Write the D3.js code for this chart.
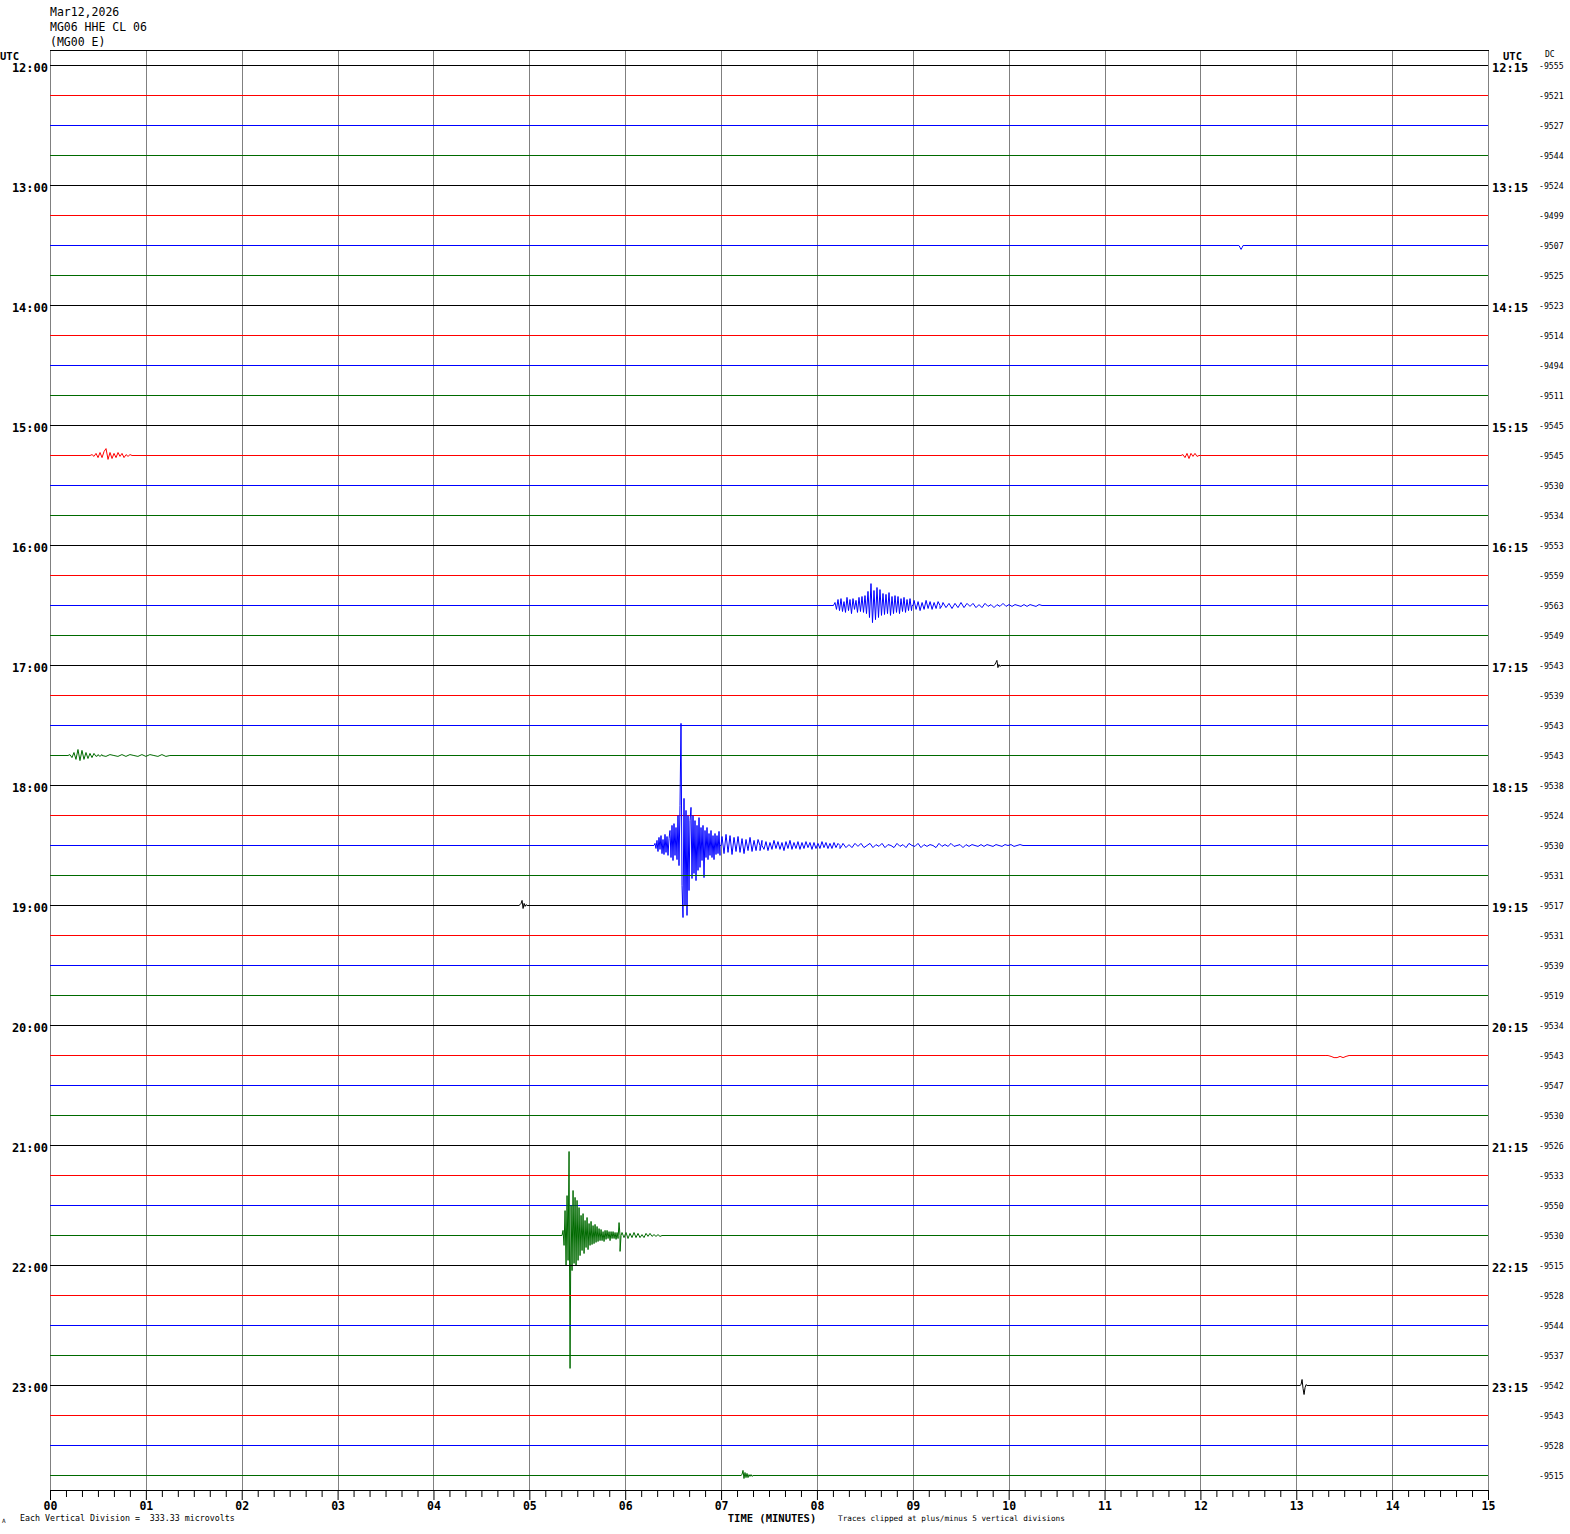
<!DOCTYPE html>
<html>
<head>
<meta charset="utf-8">
<script src="https://cdn.jsdelivr.net/npm/d3@7"></script>
<style>
  html, body { margin: 0; padding: 0; background: #fff; }
  svg { display: block; }
  text { font-family: "DejaVu Sans Mono", "Liberation Mono", monospace; fill: #000; }
</style>
</head>
<body>
<script>
// ---------------- DATA ----------------
const headerLines = ["Mar12,2026", "MG06 HHE CL 06", "(MG00 E)"];
const rowColors = ["#000000", "#ff0000", "#0000ff", "#006a00"];
const leftHourLabels = ["12:00","13:00","14:00","15:00","16:00","17:00","18:00","19:00","20:00","21:00","22:00","23:00"];
const rightHourLabels = ["12:15","13:15","14:15","15:15","16:15","17:15","18:15","19:15","20:15","21:15","22:15","23:15"];
const dcValues = [
  -9555,-9521,-9527,-9544, -9524,-9499,-9507,-9525, -9523,-9514,-9494,-9511,
  -9545,-9545,-9530,-9534, -9553,-9559,-9563,-9549, -9543,-9539,-9543,-9543,
  -9538,-9524,-9530,-9531, -9517,-9531,-9539,-9519, -9534,-9543,-9547,-9530,
  -9526,-9533,-9550,-9530, -9515,-9528,-9544,-9537, -9542,-9543,-9528,-9515
];
const minuteTicks = ["00","01","02","03","04","05","06","07","08","09","10","11","12","13","14","15"];
const secondsPerRow = 900;

// Event waveform segments: row index, start (s from row start), sample step (s), amplitudes (vertical divisions)
const blue1830a = [0.07,-0.1,0.17,-0.2,0.27,-0.13,0.33,-0.27,0.2,-0.3,0.37,-0.23,0.3,-0.33,0.23,
  0.5,-0.4,0.67,-0.5,0.73,-0.33,0.6,-0.47, 1.0,-0.67,1.33, 4.07,-1.33,-2.4,
  1.57,-2.0,1.17,-2.33,1.0,-1.5,0.83, 1.27,-1.1,1.0,-0.93,0.83,-1.17,0.67,-0.83,0.93,-0.73,
  0.6,-0.5,0.67,-1.07,0.5,-0.4,0.6,-0.47,0.4,-0.33,0.5,-0.4,0.33,-0.47,0.4,-0.3,0.33,-0.27,0.47,-0.33];
const blue1830b = [0.3,-0.27,0.37,-0.23,0.33,-0.3,0.27,-0.2,0.3,-0.23,0.23,-0.27,0.2,-0.17,0.27,-0.2,0.17,-0.17,0.2,-0.17];
const blue1830c = [0.17,-0.13,0.13,-0.17,0.1,-0.13,0.17,-0.1,0.13,-0.13,0.1,-0.17,0.13,-0.1,0.17,-0.13,0.1,-0.1,0.13,-0.13,
  0.1,-0.1,0.13,-0.07,0.1,-0.13,0.1,-0.1,0.07,-0.1,0.13,-0.07,0.1,-0.1,0.07,-0.1,0.1,-0.07,0.07,-0.1];
const blue1830d = [0.07,-0.07,0.03,-0.07,0.07,-0.03,0.07,-0.07,0,0.07,-0.07,0.03,-0.03,0.07,-0.07,0.03,0,-0.07,0.07,-0.03,
  0.03,-0.07,0.07,0,-0.03,0.07,-0.07,0.03,-0.03,0.03,0,-0.07,0.07,-0.03,0.03,-0.03,0.07,-0.03,0,0.03,
  -0.07,0.03,-0.03,0.03,0,-0.03,0.03,-0.03,0.03,0,-0.03,0.03,0,-0.03,0.03,0,0.03,-0.03,0,0.03];
const blue1630a = [0.1,-0.13,0.2,-0.17,0.23,-0.2,0.13,-0.23,0.27,-0.17,0.2,-0.27,0.23,-0.13,0.17,-0.23,0.27,-0.2,0.3,-0.23,
  0.33,-0.27,0.47,-0.4,0.73,-0.57,0.5,-0.47,0.6,-0.4,0.53,
  -0.33,0.4,-0.3,0.37,-0.27,0.43,-0.33,0.3,-0.27,0.33,-0.23,0.3,-0.27,0.23,-0.2,0.27,-0.23,0.2,-0.17,0.23,-0.17];
const blue1630b = [0.17,-0.13,0.13,-0.17,0.1,-0.13,0.17,-0.1,0.13,-0.13,0.1,-0.1,0.13,-0.1];
const blue1630c = [0.1,-0.07,0.07,-0.1,0.07,-0.07,0.1,-0.07,0.07,-0.03,0.07,-0.07,0.03,-0.07,0.07,-0.03,0.03,-0.07,0.03,-0.03,
  0.07,-0.03,0.03,-0.03,0.03,0,-0.03,0.03,-0.03,0.03,0,-0.03,0.03];
const green2145a = [0.17,-0.33,0.83,-1.0,1.33,-0.83,2.8,-4.43,1.0,-1.17,1.5,-0.93,1.27,-1.0,1.17,-0.83,0.93,-0.67,
  0.67,-0.5,0.73,-0.6,0.5,-0.4,0.6,-0.47,0.4,-0.33,0.47,-0.3,0.33,-0.27,0.37,-0.23,0.3,
  -0.2,0.23,-0.17,0.2,-0.17,0.13,-0.2,0.17,-0.13,0.17,-0.1,0.13,-0.17,0.13,-0.1,0.13,-0.1,0.1,-0.13,0.1,-0.1,0.43,-0.53];
const green2145b = [0.1,-0.07,0.1,-0.1,0.07,-0.07,0.1,-0.07,0.07,-0.07,0.03,-0.07,0.07,-0.03,0.07,-0.03,0.03,-0.03,0.03,-0.03];
const red1515a = [0.03,-0.03,0.07,-0.07,0.1,-0.07,0.13,0.23,-0.13,0.1,-0.1,0.07,-0.07,0.1,-0.03,0.07,-0.07,0.03,-0.03,0.03];
const red1515b = [0.03,-0.07,0.07,-0.1,0.07,-0.03,0.07,-0.03];
const green1745a = [0.03,-0.07,0.1,-0.13,0.2,-0.17,0.17,-0.13,0.1,-0.1,0.07,-0.07,0.07,-0.03,0.03,-0.03];
const green1745b = [0.03,-0.03,0.03,0,-0.03,0.03,-0.03,0.03,0,-0.03,0.03,-0.03,0.03,0,-0.03,0.03,-0.03];
const black1700 = [0.03,0.1,0.17,-0.07,0.03,-0.03];
const blue1330 = [0,-0.07,-0.13,-0.07,0];
const black1900 = [0.03,0.07,0.17,-0.1,0.07,-0.03,0.03];
const red2015 = [0,-0.03,-0.07,-0.07,-0.03,-0.07,-0.03];
const black2300 = [0.03,0.2,-0.1,-0.3,-0.07,0.03];
const green2345 = [0.03,0.17,-0.1,0.1,-0.07,0.07,-0.07,0.03,-0.03,0.03,-0.03];

const eventSegments = [
  { row: 26, start: 378.65, step: 0.626, values: blue1830a },
  { row: 26, start: 420.6,  step: 1.252, values: blue1830b },
  { row: 26, start: 445.6,  step: 1.252, values: blue1830c },
  { row: 26, start: 496.3,  step: 1.878, values: blue1830d },
  { row: 18, start: 491.3,  step: 0.939, values: blue1630a },
  { row: 18, start: 540.8,  step: 1.252, values: blue1630b },
  { row: 18, start: 558.9,  step: 1.878, values: blue1630c },
  { row: 39, start: 321.1,  step: 0.626, values: green2145a },
  { row: 39, start: 358.0,  step: 1.252, values: green2145b },
  { row: 13, start: 26.3,   step: 1.252, values: red1515a },
  { row: 13, start: 709.1,  step: 1.252, values: red1515b },
  { row: 23, start: 12.5,   step: 1.252, values: green1745a },
  { row: 23, start: 32.5,   step: 2.503, values: green1745b },
  { row: 20, start: 591.4,  step: 0.626, values: black1700 },
  { row: 6,  start: 744.2,  step: 0.626, values: blue1330 },
  { row: 28, start: 294.2,  step: 0.626, values: black1900 },
  { row: 33, start: 799.9,  step: 1.878, values: red2015 },
  { row: 44, start: 783.0,  step: 0.626, values: black2300 },
  { row: 47, start: 433.1,  step: 0.626, values: green2345 }
];

// ---------------- DRAW ----------------
const W = 1570, H = 1534;
const svg = d3.select("body").append("svg").attr("width", W).attr("height", H);
svg.append("rect").attr("width", W).attr("height", H).attr("fill", "#fff");

const nRows = dcValues.length;
const x = d3.scaleLinear().domain([0, secondsPerRow]).range([50, 1488]);
const rowY = d3.scaleLinear().domain([0, nRows - 1]).range([65, 1475]);
const amp = d3.scaleLinear().domain([-5, 5]).range([150, -150]); // 1 vertical division = trace spacing
const axisY = 1490;

// header
svg.append("g").selectAll("text").data(headerLines).join("text")
  .attr("x", 50).attr("y", (d, i) => 16 + i * 15)
  .attr("font-size", 11.5).text(d => d);

// grid
svg.append("g").selectAll("line").data(d3.range(0, secondsPerRow + 1, 60)).join("line")
  .attr("x1", d => Math.round(x(d)) + 0.5).attr("x2", d => Math.round(x(d)) + 0.5)
  .attr("y1", 50).attr("y2", axisY)
  .attr("stroke", "#808080").attr("stroke-width", 1);
svg.append("line").attr("x1", 50).attr("x2", 1489).attr("y1", 50.5).attr("y2", 50.5)
  .attr("stroke", "#000").attr("stroke-width", 1);

// traces
const rowPoints = d3.range(nRows).map(() => []);
eventSegments.forEach(seg => {
  const pts = rowPoints[seg.row];
  pts.push([seg.start - seg.step, 0]);
  seg.values.forEach((v, i) => pts.push([seg.start + i * seg.step, v]));
  pts.push([seg.start + seg.values.length * seg.step, 0]);
});
const traceG = svg.append("g");
rowPoints.forEach((pts, r) => {
  const all = [[0, 0], ...pts.sort((a, b) => a[0] - b[0]), [secondsPerRow, 0]];
  const base = Math.round(rowY(r)) + 0.5;
  const line = d3.line().x(d => x(d[0])).y(d => base + amp(d[1]));
  traceG.append("path").attr("d", line(all))
    .attr("fill", "none").attr("stroke", rowColors[r % 4]).attr("stroke-width", 1)
    .attr("stroke-linejoin", "miter");
});

// left / right time labels
const hourRows = d3.range(0, nRows, 4);
svg.append("text").attr("x", 0).attr("y", 59.5).attr("font-size", 10.5).attr("font-weight", "bold").text("UTC");
svg.append("g").selectAll("text").data(hourRows).join("text")
  .attr("x", 48).attr("y", r => rowY(r) + 6.5).attr("text-anchor", "end")
  .attr("font-size", 12).attr("font-weight", "bold").text((r, i) => leftHourLabels[i]);
svg.append("text").attr("x", 1503).attr("y", 59.5).attr("font-size", 10.5).attr("font-weight", "bold").text("UTC");
svg.append("g").selectAll("text").data(hourRows).join("text")
  .attr("x", 1492).attr("y", r => rowY(r) + 6.5)
  .attr("font-size", 12).attr("font-weight", "bold").text((r, i) => rightHourLabels[i]);

// DC column
svg.append("text").attr("x", 1545).attr("y", 57).attr("font-size", 8).text("DC");
svg.append("g").selectAll("text").data(dcValues).join("text")
  .attr("x", 1539).attr("y", (d, i) => rowY(i) + 3.5)
  .attr("font-size", 8.2).text(d => String(d));

// bottom axis
const major = d3.axisBottom(x).tickValues(d3.range(0, secondsPerRow + 1, 60))
  .tickFormat((d, i) => minuteTicks[i]).tickSize(10).tickSizeOuter(0).tickPadding(2);
const minor = d3.axisBottom(x).tickValues(d3.range(0, secondsPerRow + 1, 10).filter(d => d % 60 !== 0))
  .tickFormat("").tickSize(7).tickSizeOuter(0);
const gMinor = svg.append("g").attr("transform", `translate(0,${axisY})`).call(minor);
const gMajor = svg.append("g").attr("transform", `translate(0,${axisY})`).call(major);
[gMinor, gMajor].forEach(g => {
  g.selectAll("path, line").attr("stroke", "#000").attr("stroke-width", 1);
});
gMajor.selectAll("text").attr("font-family", "DejaVu Sans Mono, monospace")
  .attr("font-size", 11.5).attr("font-weight", "bold").attr("fill", "#000");

svg.append("text").attr("x", 772).attr("y", 1522).attr("text-anchor", "middle")
  .attr("font-size", 10.5).attr("font-weight", "bold").text("TIME (MINUTES)");
svg.append("text").attr("x", 838).attr("y", 1521).attr("font-size", 7.7)
  .text("Traces clipped at plus/minus 5 vertical divisions");
svg.append("text").attr("x", 20).attr("y", 1521).attr("font-size", 8.3).attr("xml:space", "preserve")
  .style("white-space", "pre").text("Each Vertical Division =  333.33 microvolts");
svg.append("text").attr("x", 2).attr("y", 1523).attr("font-size", 6).text("A");
</script>
</body>
</html>
